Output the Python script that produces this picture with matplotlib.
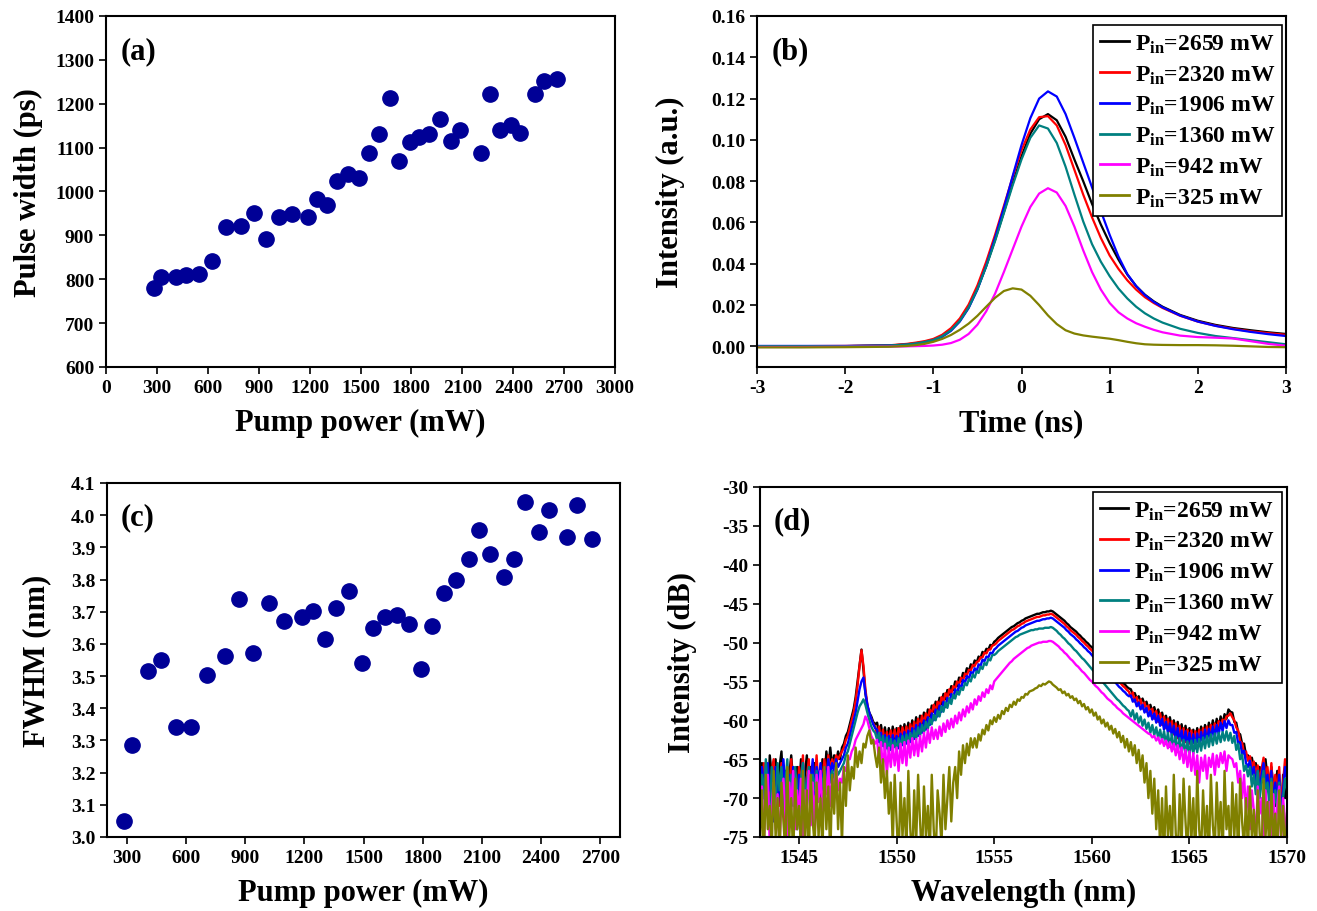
import numpy as np
import matplotlib
matplotlib.use("Agg")
import matplotlib.pyplot as plt

plt.rcParams['font.family'] = ['Liberation Serif', 'DejaVu Serif']
plt.rcParams['font.weight'] = 'bold'
plt.rcParams['axes.labelweight'] = 'bold'
plt.rcParams['axes.unicode_minus'] = False
plt.rcParams['mathtext.fontset'] = 'custom'
plt.rcParams['mathtext.rm'] = 'Liberation Serif:bold'
plt.rcParams['mathtext.it'] = 'Liberation Serif:bold'
plt.rcParams['mathtext.bf'] = 'Liberation Serif:bold'

# pump powers (mW) used for both scatter panels
pump = [284, 325, 410, 472, 549, 626, 706, 798, 871, 942, 1020, 1098, 1189,
        1246, 1305, 1360, 1427, 1490, 1549, 1610, 1671, 1729, 1790, 1847,
        1906, 1967, 2035, 2086, 2143, 2211, 2262, 2320, 2389, 2438, 2530,
        2584, 2659]
# pulse width (ps); no point recorded at 2143 mW
pulse_width = [780, 806, 804, 809, 812, 841, 919, 922, 952, 892, 943, 948,
               942, 983, 969, 1025, 1040, 1031, 1088, 1130, 1212, 1070, 1112,
               1124, 1132, 1166, 1116, 1140, np.nan, 1087, 1223, 1140, 1151,
               1133, 1223, 1251, 1257]
fwhm = [3.05, 3.285, 3.515, 3.55, 3.342, 3.342, 3.502, 3.563, 3.739, 3.572,
        3.726, 3.671, 3.685, 3.702, 3.615, 3.713, 3.765, 3.540, 3.650, 3.685,
        3.691, 3.663, 3.523, 3.657, 3.757, 3.798, 3.865, 3.955, 3.879, 3.807,
        3.865, 4.041, 3.949, 4.015, 3.931, 4.031, 3.926]

labels = ['2659', '2320', '1906', '1360', '942', '325']
colors = ['black', '#ff0000', '#0000ff', '#008080', '#ff00ff', '#808000']

# pulse traces (a.u.)
t_ns = [-3.0, -2.5, -2.0, -1.5, -1.3, -1.2, -1.1, -1.0, -0.9, -0.8, -0.7,
        -0.6, -0.5, -0.4, -0.3, -0.2, -0.1, 0.0, 0.1, 0.2, 0.3, 0.4, 0.5,
        0.6, 0.7, 0.8, 0.9, 1.0, 1.1, 1.2, 1.3, 1.4, 1.5, 1.6, 1.8, 2.0, 2.2,
        2.4, 2.6, 2.8, 3.0]
p2659 = [0.0000, 0.0000, 0.0001, 0.0004, 0.0010, 0.0015, 0.0022, 0.0032,
         0.0050, 0.0080, 0.0125, 0.0190, 0.0280, 0.0390, 0.0515, 0.0650,
         0.0790, 0.0920, 0.1030, 0.1100, 0.1125, 0.1095, 0.1015, 0.0905,
         0.0800, 0.0690, 0.0590, 0.0500, 0.0420, 0.0348, 0.0292, 0.0250,
         0.0218, 0.0192, 0.0152, 0.0124, 0.0104, 0.0089, 0.0078, 0.0068,
         0.0060]
p2320 = [0.0001, 0.0001, 0.0002, 0.0005, 0.0012, 0.0018, 0.0025, 0.0036,
         0.0056, 0.0088, 0.0135, 0.0202, 0.0295, 0.0410, 0.0540, 0.0680,
         0.0820, 0.0950, 0.1050, 0.1110, 0.1115, 0.1070, 0.0975, 0.0855,
         0.0735, 0.0625, 0.0525, 0.0440, 0.0375, 0.0320, 0.0275, 0.0238,
         0.0210, 0.0186, 0.0148, 0.0120, 0.0100, 0.0085, 0.0073, 0.0064,
         0.0056]
p1906 = [0.0002, 0.0002, 0.0002, 0.0004, 0.0008, 0.0012, 0.0019, 0.0029,
         0.0046, 0.0075, 0.0120, 0.0185, 0.0275, 0.0390, 0.0525, 0.0670,
         0.0825, 0.0975, 0.1105, 0.1200, 0.1235, 0.1210, 0.1125, 0.1010,
         0.0890, 0.0770, 0.0655, 0.0540, 0.0435, 0.0350, 0.0292, 0.0248,
         0.0215, 0.0189, 0.0149, 0.0120, 0.0099, 0.0083, 0.0070, 0.0059,
         0.0050]
p1360 = [0.0001, 0.0001, 0.0001, 0.0004, 0.0009, 0.0014, 0.0021, 0.0031,
         0.0049, 0.0078, 0.0123, 0.0188, 0.0277, 0.0387, 0.0510, 0.0645,
         0.0780, 0.0905, 0.1010, 0.1070, 0.1055, 0.0985, 0.0870, 0.0735,
         0.0605, 0.0495, 0.0410, 0.0340, 0.0280, 0.0232, 0.0192, 0.0160,
         0.0135, 0.0115, 0.0085, 0.0065, 0.0050, 0.0040, 0.0030, 0.0020,
         0.0010]
p942 = [-0.0003, -0.0003, -0.0002, -0.0001, 0.0000, 0.0001, 0.0002, 0.0004,
        0.0008, 0.0016, 0.0032, 0.0060, 0.0105, 0.0170, 0.0255, 0.0360,
        0.0470, 0.0580, 0.0675, 0.0740, 0.0766, 0.0745, 0.0680, 0.0580,
        0.0465, 0.0360, 0.0275, 0.0210, 0.0165, 0.0135, 0.0112, 0.0095,
        0.0080, 0.0068, 0.0052, 0.0045, 0.0042, 0.0038, 0.0025, 0.0012,
        0.0003]
p325 = [-0.0005, -0.0005, -0.0004, -0.0002, 0.0002, 0.0006, 0.0012, 0.0022,
        0.0036, 0.0055, 0.0080, 0.0110, 0.0148, 0.0192, 0.0235, 0.0268,
        0.0281, 0.0275, 0.0245, 0.0200, 0.0150, 0.0108, 0.0078, 0.0062,
        0.0053, 0.0047, 0.0042, 0.0037, 0.0030, 0.0022, 0.0015, 0.0010,
        0.0008, 0.0007, 0.0006, 0.0006, 0.0005, 0.0003, 0.0000, -0.0003,
        -0.0004]

# optical spectra (dB), OSA samples every 0.1 nm from 1543 to 1570 nm,
# one row per nanometre
wl = np.linspace(1543.0, 1570.0, 271)
s2659 = [
    -68, -65.5, -70, -66, -72, -64.5, -67, -69.5, -65, -71,
    -66, -64, -69, -66.5, -73, -67, -64.5, -68, -70.5, -66,
    -69, -65, -71, -67, -64.5, -68.5, -66, -72, -65.5, -69,
    -67, -70, -65, -68, -64, -66.5, -63.5, -66, -64.5, -65.5,
    -64, -65, -63.5, -63, -62, -61.5, -60.5, -59.5, -58.5, -57,
    -55, -53, -50.9, -53.5, -56.5, -58.2, -59, -59.5, -60.2, -60.5,
    -60.3, -61.8, -60.6, -62.3, -60.9, -62.6, -61.0, -62.8, -60.8, -62.4,
    -61.0, -62.7, -60.7, -62.3, -60.5, -62.0, -60.3, -61.8, -60.0, -61.5,
    -59.6, -61.1, -59.4, -60.6, -59.0, -60.2, -58.6, -59.5, -58.1, -58.9,
    -57.6, -58.5, -57.1, -57.9, -56.6, -57.3, -56.1, -56.7, -55.6, -56.1,
    -55.0, -55.6, -54.5, -55.0, -53.9, -54.3, -53.3, -53.7, -52.8, -53.1,
    -52.3, -52.6, -51.8, -52.0, -51.2, -51.4, -50.8, -50.9, -50.3, -50.4,
    -49.9, -49.7, -49.4, -49.2, -49.0, -48.8, -48.6, -48.4, -48.2, -48.0,
    -47.9, -47.7, -47.5, -47.4, -47.2, -47.1, -46.9, -46.8, -46.7, -46.6,
    -46.5, -46.4, -46.3, -46.3, -46.2, -46.1, -46.1, -46.0, -46.0, -45.9,
    -46.0, -46.2, -46.4, -46.6, -46.8, -47.0, -47.2, -47.5, -47.7, -48.0,
    -48.2, -48.4, -48.6, -48.9, -49.1, -49.4, -49.6, -49.9, -50.1, -50.4,
    -50.6, -50.9, -51.2, -51.5, -51.8, -52.1, -52.4, -52.7, -53.0, -53.3,
    -53.6, -53.9, -54.1, -54.4, -54.7, -54.9, -55.2, -55.4, -55.7, -55.9,
    -56.0, -56.7, -56.5, -57.2, -56.9, -57.6, -57.2, -58.0, -57.6, -58.5,
    -58.0, -58.9, -58.3, -59.3, -58.6, -59.7, -59.0, -60.1, -59.4, -60.6,
    -59.6, -61.0, -60.0, -61.5, -60.2, -61.9, -60.5, -62.3, -60.7, -62.4,
    -61.0, -62.7, -61.2, -62.8, -61.0, -62.5, -60.8, -62.2, -60.6, -61.8,
    -60.3, -61.6, -60.0, -61.3, -59.8, -61.0, -59.5, -60.5, -59.2, -59.8,
    -58.6, -58.9, -59.0, -60.2, -60.3, -61.6, -61.8, -63.0, -63.0, -64.5,
    -64.5, -65.3, -64.8, -66.2, -65.5, -67.0, -66.0, -68.0, -66.5, -65.0,
    -67.5, -69.5, -66.0, -68.5, -71.0, -66.5, -69.0, -73.0, -67.0, -70.0,
    -68.0]
s2320 = [
    -66, -69, -65.5, -71, -67, -74, -66.5, -65, -70, -67.5,
    -71, -65.5, -68, -73.5, -66, -69.5, -65, -70, -67, -72,
    -66, -68.5, -64.5, -70, -67.5, -65, -71, -66.5, -68, -64.5,
    -69, -66, -67.5, -65, -68, -64.5, -66.5, -65, -66, -64.5,
    -65, -64.5, -64, -63.5, -62.5, -62, -61, -60, -59, -57.5,
    -55.5, -53, -51.0, -53, -56, -58, -59.2, -59.8, -60.4, -60.8,
    -61.8, -60.8, -62.6, -61.2, -63.0, -61.5, -62.8, -61.3, -62.6, -61.2,
    -62.8, -61.0, -62.5, -60.9, -62.3, -60.8, -62.0, -60.5, -61.6, -60.2,
    -61.3, -59.8, -60.9, -59.4, -60.4, -59.1, -59.8, -58.6, -59.2, -58.0,
    -58.9, -57.6, -58.2, -57.0, -57.6, -56.5, -57.1, -56.0, -56.6, -55.6,
    -55.9, -55.0, -55.4, -54.5, -54.9, -54.0, -54.2, -53.5, -53.6, -52.9,
    -53.0, -52.5, -52.4, -51.9, -51.9, -51.3, -51.4, -50.9, -50.9, -50.4,
    -50.3, -50.1, -49.8, -49.6, -49.4, -49.2, -49.0, -48.8, -48.6, -48.4,
    -48.3, -48.1, -47.9, -47.8, -47.6, -47.5, -47.3, -47.2, -47.1, -47.0,
    -46.9, -46.8, -46.7, -46.7, -46.6, -46.5, -46.5, -46.4, -46.4, -46.3,
    -46.4, -46.6, -46.8, -47.0, -47.2, -47.4, -47.6, -47.9, -48.1, -48.4,
    -48.6, -48.8, -49.0, -49.3, -49.5, -49.8, -50.0, -50.3, -50.5, -50.8,
    -51.0, -51.3, -51.6, -51.9, -52.2, -52.5, -52.8, -53.1, -53.4, -53.7,
    -54.0, -54.3, -54.5, -54.8, -55.1, -55.3, -55.6, -55.8, -56.1, -56.3,
    -57.0, -56.4, -57.6, -57.0, -58.1, -57.3, -58.5, -57.7, -58.9, -58.1,
    -59.4, -58.5, -59.8, -58.8, -60.2, -59.1, -60.6, -59.5, -61.0, -59.8,
    -61.4, -60.1, -61.8, -60.4, -62.3, -60.7, -62.6, -61.0, -62.8, -61.2,
    -63.0, -61.3, -62.9, -61.4, -62.8, -61.2, -62.5, -61.0, -62.2, -60.8,
    -61.9, -60.6, -61.6, -60.4, -61.3, -60.1, -60.9, -59.9, -60.3, -59.5,
    -59.4, -59.1, -59.6, -60.0, -60.9, -61.3, -62.7, -62.9, -64.3, -64.0,
    -65.2, -64.6, -66.0, -65.3, -67.2, -65.8, -68.0, -66.2, -64.8, -67.5,
    -66.0, -68.8, -65.5, -70.0, -67.0, -69.5, -66.0, -71.5, -68.0, -65.0,
    -66.0]
s1906 = [
    -70, -66, -68.5, -72, -65.5, -69, -67, -73, -66, -70,
    -68, -71.5, -65, -69, -72.5, -67, -70, -66, -68.5, -74,
    -67, -70, -65.5, -69, -71, -66.5, -68, -65, -69.5, -66,
    -68, -65.5, -69, -66, -67.5, -65, -67, -65.5, -66.5, -65,
    -66, -65.5, -65, -64.5, -63.5, -63, -62, -61, -60, -59,
    -57.5, -56, -55, -54.5, -56.5, -58, -59, -59.8, -60.5, -61,
    -61.2, -62.8, -61.6, -63.3, -61.9, -63.6, -62.0, -63.8, -61.9, -63.4,
    -62.0, -63.6, -61.7, -63.2, -61.5, -63.0, -61.3, -62.8, -61.0, -62.4,
    -60.6, -62.0, -60.4, -61.6, -60.0, -61.2, -59.6, -60.6, -59.1, -60.0,
    -58.6, -59.5, -58.1, -58.9, -57.6, -58.3, -57.1, -57.7, -56.6, -57.1,
    -56.0, -56.6, -55.4, -56.0, -54.8, -55.2, -54.3, -54.7, -53.8, -54.0,
    -53.3, -53.7, -52.8, -53.0, -52.2, -52.4, -51.8, -51.9, -51.3, -51.4,
    -50.9, -50.7, -50.4, -50.2, -50.0, -49.8, -49.6, -49.4, -49.2, -49.0,
    -48.8, -48.6, -48.5, -48.3, -48.1, -48.0, -47.8, -47.7, -47.6, -47.5,
    -47.4, -47.3, -47.2, -47.2, -47.1, -47.0, -47.0, -46.9, -46.9, -46.8,
    -46.9, -47.1, -47.3, -47.5, -47.7, -47.9, -48.1, -48.4, -48.6, -48.9,
    -49.1, -49.3, -49.6, -49.8, -50.1, -50.3, -50.6, -50.8, -51.1, -51.3,
    -51.6, -51.9, -52.2, -52.5, -52.8, -53.1, -53.4, -53.7, -54.0, -54.3,
    -54.6, -54.9, -55.1, -55.4, -55.7, -55.9, -56.2, -56.4, -56.7, -56.9,
    -56.8, -57.6, -57.3, -58.2, -57.7, -58.6, -58.0, -59.0, -58.4, -59.5,
    -58.8, -59.9, -59.1, -60.3, -59.4, -60.7, -59.8, -61.2, -60.2, -61.6,
    -60.4, -62.0, -60.7, -62.5, -61.0, -62.9, -61.3, -63.2, -61.4, -63.3,
    -61.6, -63.5, -61.8, -63.6, -61.7, -63.3, -61.5, -63.0, -61.2, -62.7,
    -61.1, -62.5, -60.8, -62.2, -60.6, -61.8, -60.3, -61.4, -60.1, -61.0,
    -60.0, -60.6, -60.6, -61.6, -61.5, -63.0, -62.8, -64.3, -63.9, -65.5,
    -66.0, -65.2, -67.0, -66.0, -68.3, -66.5, -69.0, -67.0, -65.5, -68.5,
    -67.0, -70.0, -66.5, -71.0, -68.0, -70.5, -67.0, -72.5, -69.0, -66.0,
    -67.5]
s1360 = [
    -72, -67, -70, -65, -69.5, -74, -66, -68, -71, -65.5,
    -69, -66, -72, -68, -65, -70.5, -67, -71, -66, -69,
    -73, -67.5, -65.5, -70, -68, -66, -71.5, -67, -69, -66.5,
    -70, -67, -68.5, -66.5, -69, -66, -68, -66.5, -67.5, -66,
    -67, -66.5, -66, -65.5, -64.5, -64, -63, -62, -61, -60,
    -59, -58.2, -57.8, -57.3, -58, -59, -60, -60.8, -61.3, -61.6,
    -62.5, -61.6, -63.4, -62.0, -63.9, -62.2, -64.1, -62.4, -63.9, -62.6,
    -63.8, -62.3, -63.5, -62.0, -63.3, -61.8, -63.0, -61.6, -62.7, -61.3,
    -62.4, -60.9, -62.0, -60.6, -61.6, -60.2, -61.1, -59.8, -60.5, -59.3,
    -60.0, -58.8, -59.5, -58.2, -58.9, -57.7, -58.4, -57.2, -57.9, -56.7,
    -57.2, -56.3, -56.7, -55.8, -56.1, -55.2, -55.5, -54.7, -55.0, -54.1,
    -54.5, -53.7, -53.9, -53.1, -53.4, -52.6, -52.9, -52.1, -52.3, -51.6,
    -51.6, -51.4, -51.1, -50.9, -50.7, -50.5, -50.3, -50.1, -49.9, -49.7,
    -49.5, -49.3, -49.2, -49.0, -48.9, -48.8, -48.7, -48.6, -48.5, -48.4,
    -48.4, -48.3, -48.3, -48.2, -48.2, -48.2, -48.1, -48.1, -48.1, -48.0,
    -48.1, -48.3, -48.5, -48.8, -49.0, -49.3, -49.5, -49.8, -50.1, -50.3,
    -50.6, -50.9, -51.1, -51.4, -51.7, -52.0, -52.2, -52.5, -52.8, -53.1,
    -53.4, -53.7, -54.0, -54.3, -54.6, -54.9, -55.2, -55.5, -55.8, -56.1,
    -56.4, -56.7, -57.0, -57.3, -57.5, -57.8, -58.1, -58.3, -58.6, -58.8,
    -59.5, -58.7, -59.9, -59.1, -60.3, -59.5, -60.7, -59.9, -61.1, -60.3,
    -61.6, -60.6, -61.9, -60.9, -62.3, -61.2, -62.6, -61.4, -63.0, -61.6,
    -63.4, -61.8, -63.6, -62.1, -64.0, -62.3, -64.2, -62.5, -64.3, -62.7,
    -64.5, -62.6, -64.3, -62.5, -64.1, -62.4, -63.9, -62.2, -63.6, -62.0,
    -63.4, -61.8, -63.2, -61.7, -63.0, -61.6, -62.8, -61.5, -62.6, -61.4,
    -62.6, -61.6, -62.9, -62.0, -63.8, -63.0, -65.0, -64.4, -66.5, -65.8,
    -67.2, -66.0, -68.5, -67.0, -69.5, -66.5, -70.0, -68.0, -66.5, -69.5,
    -68.0, -71.0, -67.5, -72.5, -69.0, -71.0, -68.0, -73.5, -70.0, -67.5,
    -69.0]
s942 = [
    -73, -68.5, -75.5, -70, -67, -76, -71, -68, -74, -69.5,
    -76, -70, -67.5, -72, -75.5, -68, -71.5, -66.5, -74, -69,
    -72, -67.5, -76, -69, -71, -66.5, -73.5, -68, -75, -67,
    -70.5, -66.5, -72, -68, -69.5, -66, -71, -67.5, -68.5, -66,
    -69, -67.5, -68, -66, -66.5, -65, -65, -64, -63.5, -62.5,
    -62, -61.5, -61, -60.5, -59.5, -60, -61, -62, -62.5, -63,
    -62.5, -65.2, -62.8, -66.5, -63.0, -67.0, -63.5, -66.0, -63.2, -65.8,
    -63.5, -66.5, -63.0, -65.5, -62.8, -65.8, -62.6, -64.8, -62.3, -64.5,
    -62.4, -64.6, -62.0, -64.0, -61.6, -63.5, -61.2, -62.9, -60.9, -62.4,
    -61.2, -62.4, -60.8, -62.0, -60.4, -61.5, -60.0, -61.1, -59.8, -60.9,
    -59.4, -60.4, -59.0, -60.0, -58.6, -59.5, -58.2, -59.0, -57.8, -58.6,
    -57.3, -58.0, -56.9, -57.5, -56.4, -57.0, -56.0, -56.5, -55.5, -56.0,
    -55.0, -54.7, -54.4, -54.1, -53.8, -53.5, -53.2, -52.9, -52.6, -52.4,
    -52.1, -51.9, -51.7, -51.5, -51.3, -51.1, -50.9, -50.7, -50.6, -50.4,
    -50.3, -50.2, -50.1, -50.0, -50.0, -49.9, -49.9, -49.9, -49.8, -49.8,
    -49.9, -50.1, -50.3, -50.5, -50.8, -51.0, -51.3, -51.5, -51.8, -52.1,
    -52.3, -52.6, -52.9, -53.1, -53.4, -53.7, -53.9, -54.2, -54.5, -54.8,
    -55.0, -55.3, -55.6, -55.8, -56.1, -56.4, -56.6, -56.9, -57.2, -57.4,
    -57.6, -57.9, -58.1, -58.4, -58.6, -58.8, -59.1, -59.3, -59.5, -59.7,
    -59.9, -60.1, -60.3, -60.5, -60.7, -60.9, -61.1, -61.3, -61.5, -61.7,
    -61.8, -62.2, -62.0, -62.6, -62.2, -63.0, -62.4, -63.3, -62.6, -63.6,
    -62.8, -64.0, -63.0, -64.5, -63.2, -65.0, -63.5, -65.5, -63.8, -66.0,
    -64.0, -66.5, -64.2, -67.0, -64.5, -68.0, -64.8, -66.5, -64.5, -67.5,
    -64.8, -66.0, -64.3, -67.0, -64.5, -66.0, -64.2, -65.5, -64.0, -66.5,
    -64.5, -64.8, -65.0, -66.0, -65.5, -68.0, -66.5, -70.0, -67.0, -72.0,
    -68.5, -74.0, -69.0, -71.5, -75.5, -68.5, -72.0, -70.0, -76.0, -69.0,
    -73.0, -70.5, -76.0, -69.5, -74.5, -71.0, -68.5, -75.5, -70.0, -73.0,
    -76.0]
s325 = [
    -76, -69, -78, -67, -74, -71, -77, -66.5, -75, -70,
    -78, -68, -73, -77, -66, -75, -70, -78, -67.5, -74,
    -71, -77, -66.5, -76, -69, -78, -67, -73, -76, -68,
    -75, -70, -77, -66, -74, -68.5, -78, -67, -72, -65.5,
    -74, -68, -76, -66, -71, -64.5, -69, -66, -67.5, -63.5,
    -66, -64, -65.5, -63, -63.5, -62, -61.3, -63, -62.5, -64.5,
    -66, -63.5, -68, -65, -70, -66.5, -72, -68, -76, -67,
    -73, -78, -68, -75, -70, -77, -66.5, -74, -78, -69,
    -76, -67, -73, -78, -68.5, -75, -71, -77, -67, -74,
    -78, -69, -72, -76, -67, -74, -70, -66, -73, -68,
    -66, -70, -64, -67, -63.2, -65.5, -63, -64.5, -62.3, -63.5,
    -62.3, -63.5, -61.8, -62.6, -61.2, -61.8, -60.6, -61.3, -60.0, -60.5,
    -59.6, -60.2, -59.3, -59.8, -58.8, -59.2, -58.4, -58.8, -58.0, -58.3,
    -57.6, -58.0, -57.3, -57.5, -57.0, -57.1, -56.6, -56.7, -56.3, -56.2,
    -56.1, -55.9, -55.8, -55.5, -55.6, -55.3, -55.4, -55.2, -55.0, -55.1,
    -55.4, -55.6, -55.8, -56.1, -56.0, -56.5, -56.3, -56.8, -56.6, -57.1,
    -56.9, -57.4, -57.2, -57.8, -57.5, -58.2, -57.9, -58.6, -58.3, -59.0,
    -58.6, -59.4, -59.0, -59.9, -59.5, -60.4, -59.9, -60.8, -60.3, -61.2,
    -60.7, -61.7, -61.1, -62.2, -61.5, -62.8, -62.0, -63.5, -62.4, -64.0,
    -62.8, -64.5, -63.2, -65.5, -63.8, -66.5, -64.5, -68.0, -65.5, -70.0,
    -66.5, -72.0, -67.5, -74.0, -69.0, -76.5, -70.0, -78.0, -68.5, -75.0,
    -71.0, -77.0, -67.0, -74.5, -78.0, -69.5, -76.0, -67.5, -73.0, -77.5,
    -68.5, -75.5, -70.0, -78.0, -66.5, -74.0, -77.0, -69.0, -75.5, -71.0,
    -78.0, -67.0, -73.5, -76.5, -68.0, -75.0, -70.5, -78.0, -66.5, -74.0,
    -71.0, -77.5, -68.0, -75.0, -69.5, -78.0, -67.5, -73.0, -76.5, -70.0,
    -77.0, -68.5, -75.0, -71.5, -78.0, -69.0, -74.5, -77.0, -67.5, -75.0,
    -70.5, -78.0, -68.0, -76.0, -72.0, -77.5, -69.0, -75.0, -71.0, -78.0,
    -72.0]

pulses = [p2659, p2320, p1906, p1360, p942, p325]
spectra = [s2659, s2320, s1906, s1360, s942, s325]

W, H = 1317, 912
fig = plt.figure(figsize=(W / 100, H / 100), dpi=100)


def box(l, t, r, b):
    return [l / W, 1 - b / H, (r - l) / W, (b - t) / H]


ax_a = fig.add_axes(box(106, 17, 615, 368))
ax_b = fig.add_axes(box(757, 17, 1286, 368))
ax_c = fig.add_axes(box(107, 484, 620, 838))
ax_d = fig.add_axes(box(760, 488, 1287, 838))

for ax in (ax_a, ax_b, ax_c, ax_d):
    for s in ax.spines.values():
        s.set_linewidth(1.5)
    ax.tick_params(direction='out', length=5, width=1.2, labelsize=14,
                   top=False, right=False)

dot = dict(ls='none', marker='o', ms=11, color='#000096')
lab = dict(fontsize=22, fontweight='bold')
letter = dict(fontsize=22, fontweight='bold', ha='left', va='center')

# (a) pulse width vs pump power
ax_a.plot(pump, pulse_width, **dot)
ax_a.set_xlim(0, 3000)
ax_a.set_ylim(600, 1400)
ax_a.set_xticks(range(0, 3001, 300))
ax_a.set_yticks(range(600, 1401, 100))
ax_a.set_xlabel('Pump power (mW)', labelpad=9, **lab)
ax_a.set_ylabel('Pulse width (ps)', labelpad=9, **lab)
ax_a.text(0.028, 0.90, '(a)', transform=ax_a.transAxes, **letter)

# (b) pulse traces
for y, c, l in zip(pulses, colors, labels):
    ax_b.plot(t_ns, y, color=c, lw=1.6, label='P$_{in}$=' + l + ' mW')
ax_b.set_xlim(-3, 3)
ax_b.set_ylim(-0.01, 0.16)
ax_b.set_yticks(np.arange(0, 0.161, 0.02))
ax_b.set_yticklabels(['%.2f' % v for v in np.arange(0, 0.161, 0.02)])
ax_b.set_xlabel('Time (ns)', labelpad=9, **lab)
ax_b.set_ylabel('Intensity (a.u.)', labelpad=19, **lab)
ax_b.text(0.028, 0.90, '(b)', transform=ax_b.transAxes, **letter)

# (c) spectral width vs pump power
ax_c.plot(pump, fwhm, **dot)
ax_c.set_xlim(200, 2800)
ax_c.set_ylim(3.0, 4.1)
ax_c.set_xticks(range(300, 2701, 300))
ax_c.set_yticks(np.arange(3.0, 4.11, 0.1))
ax_c.set_yticklabels(['%.1f' % v for v in np.arange(3.0, 4.11, 0.1)])
ax_c.set_xlabel('Pump power (mW)', labelpad=9, **lab)
ax_c.set_ylabel('FWHM (nm)', labelpad=14, **lab)
ax_c.text(0.026, 0.905, '(c)', transform=ax_c.transAxes, **letter)

# (d) optical spectra, weakest drawn last
for y, c, l in zip(spectra, colors, labels):
    ax_d.plot(wl, y, color=c, lw=1.7, label='P$_{in}$=' + l + ' mW')
ax_d.set_xlim(1543, 1570)
ax_d.set_ylim(-75, -30)
ax_d.set_xticks(range(1545, 1571, 5))
ax_d.set_yticks(range(-75, -29, 5))
ax_d.set_xlabel('Wavelength (nm)', labelpad=9, **lab)
ax_d.set_ylabel('Intensity (dB)', labelpad=18, **lab)
ax_d.text(0.025, 0.905, '(d)', transform=ax_d.transAxes, **letter)

leg = dict(loc='upper right', fontsize=17, handlelength=1.2, handletextpad=0.25,
           labelspacing=0.36, borderpad=0.3, borderaxespad=0, fancybox=False,
           edgecolor='black', framealpha=1)
lb = ax_b.legend(bbox_to_anchor=(0.993, 0.973), **leg)
ld = ax_d.legend(bbox_to_anchor=(0.99, 0.985), **leg)
for lg in (lb, ld):
    lg.get_frame().set_linewidth(1.2)
    for h in lg.get_lines():
        h.set_linewidth(2)

fig.savefig('out.png', dpi=100)
